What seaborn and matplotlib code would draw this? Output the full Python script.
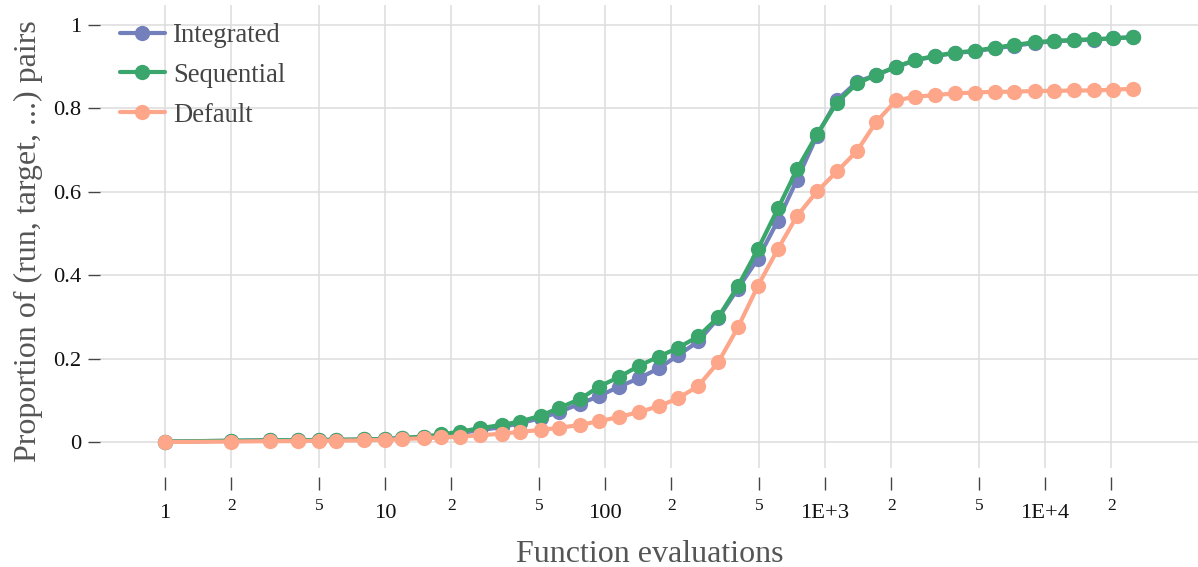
import matplotlib
matplotlib.use("Agg")
import matplotlib.pyplot as plt
from matplotlib.ticker import FixedLocator, FixedFormatter
import pandas as pd
import seaborn as sns

# Budgets (function evaluations) at which the proportions were recorded
evals = [1, 2, 3, 4, 5, 6, 8, 10, 12, 15, 18, 22, 27, 34, 41, 51, 62, 77, 94,
         116, 143, 176, 215, 265, 327, 402, 496, 611, 746, 920, 1134, 1398,
         1705, 2102, 2566, 3162, 3898, 4806, 5925, 7231, 9012, 10990, 13550,
         16700, 20370, 25120]

integrated = [0.001, 0.003, 0.004, 0.004, 0.005, 0.005, 0.006, 0.007, 0.009,
              0.012, 0.016, 0.022, 0.028, 0.036, 0.045, 0.057, 0.072, 0.092,
              0.110, 0.133, 0.153, 0.177, 0.208, 0.241, 0.297, 0.368, 0.440,
              0.531, 0.629, 0.735, 0.820, 0.864, 0.880, 0.899, 0.915, 0.925,
              0.933, 0.937, 0.944, 0.950, 0.957, 0.961, 0.963, 0.965, 0.968,
              0.971]

sequential = [0.001, 0.003, 0.004, 0.004, 0.005, 0.005, 0.006, 0.007, 0.010,
              0.013, 0.018, 0.025, 0.033, 0.041, 0.049, 0.063, 0.082, 0.103,
              0.133, 0.156, 0.183, 0.205, 0.226, 0.253, 0.299, 0.374, 0.463,
              0.560, 0.654, 0.738, 0.814, 0.860, 0.880, 0.900, 0.916, 0.926,
              0.934, 0.938, 0.946, 0.952, 0.959, 0.962, 0.964, 0.966, 0.968,
              0.971]

default = [0.000, 0.001, 0.002, 0.002, 0.003, 0.003, 0.004, 0.005, 0.007,
           0.009, 0.011, 0.013, 0.016, 0.020, 0.024, 0.029, 0.034, 0.041,
           0.050, 0.060, 0.072, 0.086, 0.105, 0.134, 0.191, 0.275, 0.375,
           0.463, 0.542, 0.601, 0.649, 0.698, 0.767, 0.819, 0.828, 0.832,
           0.836, 0.838, 0.840, 0.840, 0.842, 0.842, 0.843, 0.843, 0.845,
           0.847]

series_names = ["Integrated", "Sequential", "Default"]
series_colors = ["#7480bc", "#3aa66b", "#fda68a"]

major_ticks = [1, 10, 100, 1000, 10000]
major_labels = ["1", "10", "100", "1E+3", "1E+4"]
minor_ticks = [2, 5, 20, 50, 200, 500, 2000, 5000, 20000]
minor_labels = ["2", "5", "2", "5", "2", "5", "2", "5", "2"]
y_ticks = [0, 0.2, 0.4, 0.6, 0.8, 1.0]
y_labels = ["0", "0.2", "0.4", "0.6", "0.8", "1"]

frames = []
for name, vals in zip(series_names, [integrated, sequential, default]):
    frames.append(pd.DataFrame({"evals": evals, "prop": vals, "method": name}))
df = pd.concat(frames, ignore_index=True)

sns.set_theme(style="whitegrid")
plt.rcParams["font.family"] = ["Liberation Serif", "DejaVu Serif"]

fig = plt.figure(figsize=(11.98, 5.67), dpi=100)
ax = fig.add_axes([100 / 1198, 1 - 468 / 567, 1098 / 1198, 463 / 567])

sns.lineplot(data=df, x="evals", y="prop", hue="method",
             hue_order=series_names, palette=series_colors,
             estimator=None, sort=False, marker="o", markersize=11,
             markeredgewidth=0, linewidth=3.0, ax=ax)

ax.set_xscale("log")
ax.set_xlim(0.506, 49600)
ax.set_ylim(-0.0624, 1.048)

for s in ax.spines.values():
    s.set_visible(False)
ax.spines["bottom"].set_position(("outward", 6.5))

ax.xaxis.set_major_locator(FixedLocator(major_ticks))
ax.xaxis.set_major_formatter(FixedFormatter(major_labels))
ax.xaxis.set_minor_locator(FixedLocator(minor_ticks))
ax.xaxis.set_minor_formatter(FixedFormatter(minor_labels))
ax.yaxis.set_major_locator(FixedLocator(y_ticks))
ax.yaxis.set_major_formatter(FixedFormatter(y_labels))

ax.tick_params(axis="x", which="major", direction="out", length=9.4,
               width=1, color="#444444", labelsize=16.2, pad=10.3,
               labelcolor="#111111", bottom=True)
ax.tick_params(axis="x", which="minor", direction="out", length=9.4,
               width=1, color="#444444", labelsize=12.5, pad=6,
               labelcolor="#111111", bottom=True)
ax.tick_params(axis="y", which="major", direction="out", length=8.6,
               width=1, color="#444444", labelsize=16.2, pad=5,
               labelcolor="#111111", left=True)

ax.grid(True, which="both", axis="x", color="#dddddd", linewidth=1.1)
ax.grid(True, which="major", axis="y", color="#dddddd", linewidth=1.1)
ax.set_axisbelow(True)

ax.set_xlabel("Function evaluations", fontsize=23, color="#555555")
ax.set_ylabel("Proportion of (run, target, ...) pairs", fontsize=23,
              color="#555555")
ax.xaxis.set_label_coords(0.501, -0.156)
ax.yaxis.set_label_coords(-0.052, 0.49)

leg = ax.legend(loc="upper left", bbox_to_anchor=(-0.0015, 1.0075),
                frameon=False, fontsize=19.2, handlelength=1.7,
                handletextpad=0.3, labelspacing=0.56, borderpad=0.3)
for t in leg.get_texts():
    t.set_color("#444444")
for h in leg.legend_handles:
    h.set_linewidth(3.0)
    h.set_markersize(11)

fig.savefig("out.png", dpi=100)
